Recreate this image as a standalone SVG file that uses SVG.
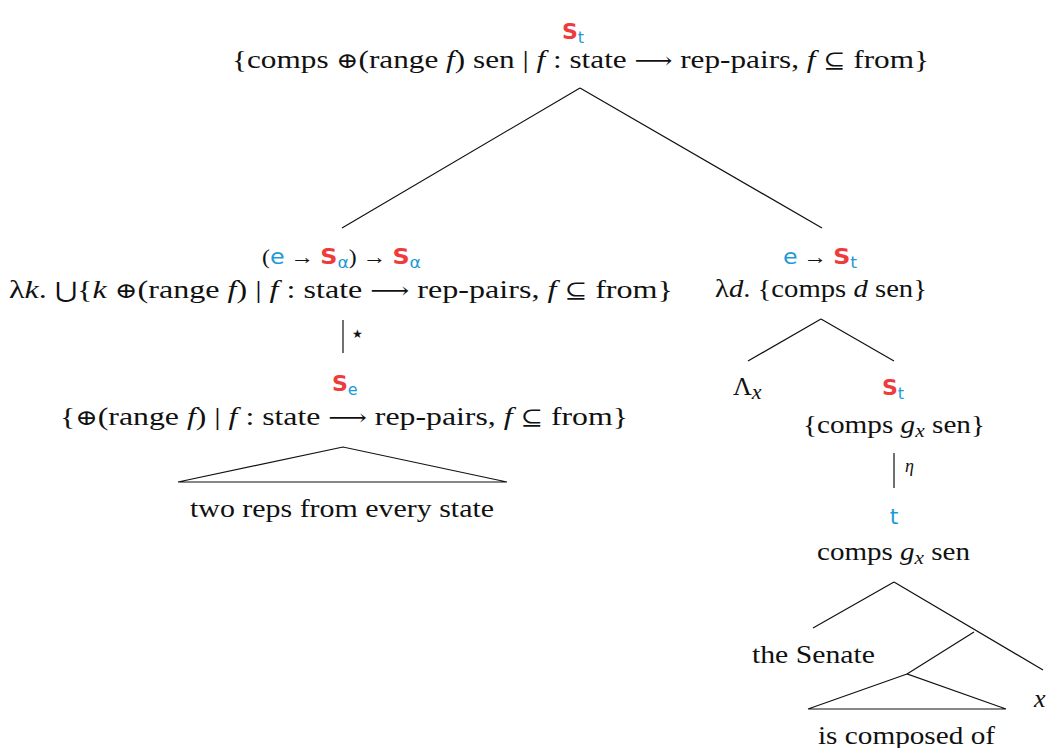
<svg xmlns="http://www.w3.org/2000/svg" width="1048" height="748" viewBox="0 0 1048 748">
<style>
.t{font-family:"Liberation Serif","DejaVu Serif",serif;font-size:26px;fill:#111}
.ty{font-family:"Liberation Serif","DejaVu Serif",serif;font-size:22px;fill:#111}
.i{font-style:italic}
.S{fill:#ee3b3b;font-weight:bold;font-family:"DejaVu Sans",sans-serif;font-size:22px}
.b{fill:#1e9ad6;font-family:"DejaVu Sans",sans-serif}
.sub{font-size:16px}
.m{font-family:"DejaVu Serif",serif;font-size:22px}
.ln{stroke:#111;stroke-width:1.2;fill:none}
.star{font-family:"DejaVu Sans",sans-serif;font-size:12px;fill:#111}
.eta{font-family:"Liberation Serif",serif;font-style:italic;font-size:18px;fill:#111}
</style>
<rect width="1048" height="748" fill="#fff"/>
<g id="connectors">
<path class="ln" d="M580,88 L342,228 M580,88 L822,228"/>
<path class="ln" d="M343,320 L343,353"/>
<path class="ln" d="M343,447 L178,482 L507,482 Z"/>
<path class="ln" d="M821,319 L748,361 M821,319 L894,361"/>
<path class="ln" d="M894,453 L894,488"/>
<path class="ln" d="M894,582 L813,628 M894,582 L1043,670 M974,632 L907,674"/>
<path class="ln" d="M907,674 L808,709 L1006,709 Z"/>
<text class="star" x="352" y="338">★</text>
<text class="eta" x="905" y="472">η</text>
</g>
<g id="root">
<text class="ty" x="562" y="39"><tspan class="S">S</tspan><tspan class="b sub" dy="4">t</tspan></text>
<text class="t" x="232" y="68" textLength="697" lengthAdjust="spacingAndGlyphs">{comps <tspan class="m">⊕</tspan>(range <tspan class="i">f</tspan>) sen | <tspan class="i">f</tspan> : state <tspan class="m">⟶</tspan> rep-pairs, <tspan class="i">f</tspan> <tspan class="m">⊆</tspan> from}</text>
</g>
<g id="left">
<text class="ty" x="262" y="264" textLength="159" lengthAdjust="spacingAndGlyphs">(<tspan class="b">e</tspan> → <tspan class="S">S</tspan><tspan class="b sub" dy="4">α</tspan><tspan dy="-4">) → </tspan><tspan class="S">S</tspan><tspan class="b sub" dy="4">α</tspan></text>
<text class="t" x="9" y="298" textLength="664" lengthAdjust="spacingAndGlyphs">λ<tspan class="i">k</tspan>. <tspan class="m">⋃</tspan>{<tspan class="i">k</tspan> <tspan class="m">⊕</tspan>(range <tspan class="i">f</tspan>) | <tspan class="i">f</tspan> : state <tspan class="m">⟶</tspan> rep-pairs, <tspan class="i">f</tspan> <tspan class="m">⊆</tspan> from}</text>
</g>
<g id="se">
<text class="ty" x="332" y="391"><tspan class="S">S</tspan><tspan class="b sub" dy="4">e</tspan></text>
<text class="t" x="60" y="425" textLength="568" lengthAdjust="spacingAndGlyphs">{<tspan class="m">⊕</tspan>(range <tspan class="i">f</tspan>) | <tspan class="i">f</tspan> : state <tspan class="m">⟶</tspan> rep-pairs, <tspan class="i">f</tspan> <tspan class="m">⊆</tspan> from}</text>
</g>
<g id="two-reps">
<text class="t" x="190" y="517" textLength="304" lengthAdjust="spacingAndGlyphs">two reps from every state</text>
</g>
<g id="right">
<text class="ty" x="783" y="264" textLength="74" lengthAdjust="spacingAndGlyphs"><tspan class="b">e</tspan> → <tspan class="S">S</tspan><tspan class="b sub" dy="4">t</tspan></text>
<text class="t" x="715" y="297" textLength="212" lengthAdjust="spacingAndGlyphs">λ<tspan class="i">d</tspan>. {comps <tspan class="i">d</tspan> sen}</text>
</g>
<g id="lambda-x">
<text class="t" x="733" y="395">Λ<tspan class="i" font-size="22" dy="4">x</tspan></text>
</g>
<g id="st2">
<text class="ty" x="882" y="395"><tspan class="S">S</tspan><tspan class="b sub" dy="4">t</tspan></text>
<text class="t" x="803" y="433" textLength="182" lengthAdjust="spacingAndGlyphs">{comps <tspan class="i">g</tspan><tspan class="i" font-size="19" dy="4">x</tspan><tspan dy="-4"> sen}</tspan></text>
</g>
<g id="t-node">
<text class="ty b" x="894" y="524" text-anchor="middle">t</text>
<text class="t" x="817" y="560" textLength="153" lengthAdjust="spacingAndGlyphs">comps <tspan class="i">g</tspan><tspan class="i" font-size="19" dy="4">x</tspan><tspan dy="-4"> sen</tspan></text>
</g>
<g id="senate">
<text class="t" x="752" y="663" textLength="123" lengthAdjust="spacingAndGlyphs">the Senate</text>
</g>
<g id="x-leaf">
<text class="t i" x="1034" y="707">x</text>
</g>
<g id="composed">
<text class="t" x="818" y="744" textLength="177" lengthAdjust="spacingAndGlyphs">is composed of</text>
</g>
</svg>
